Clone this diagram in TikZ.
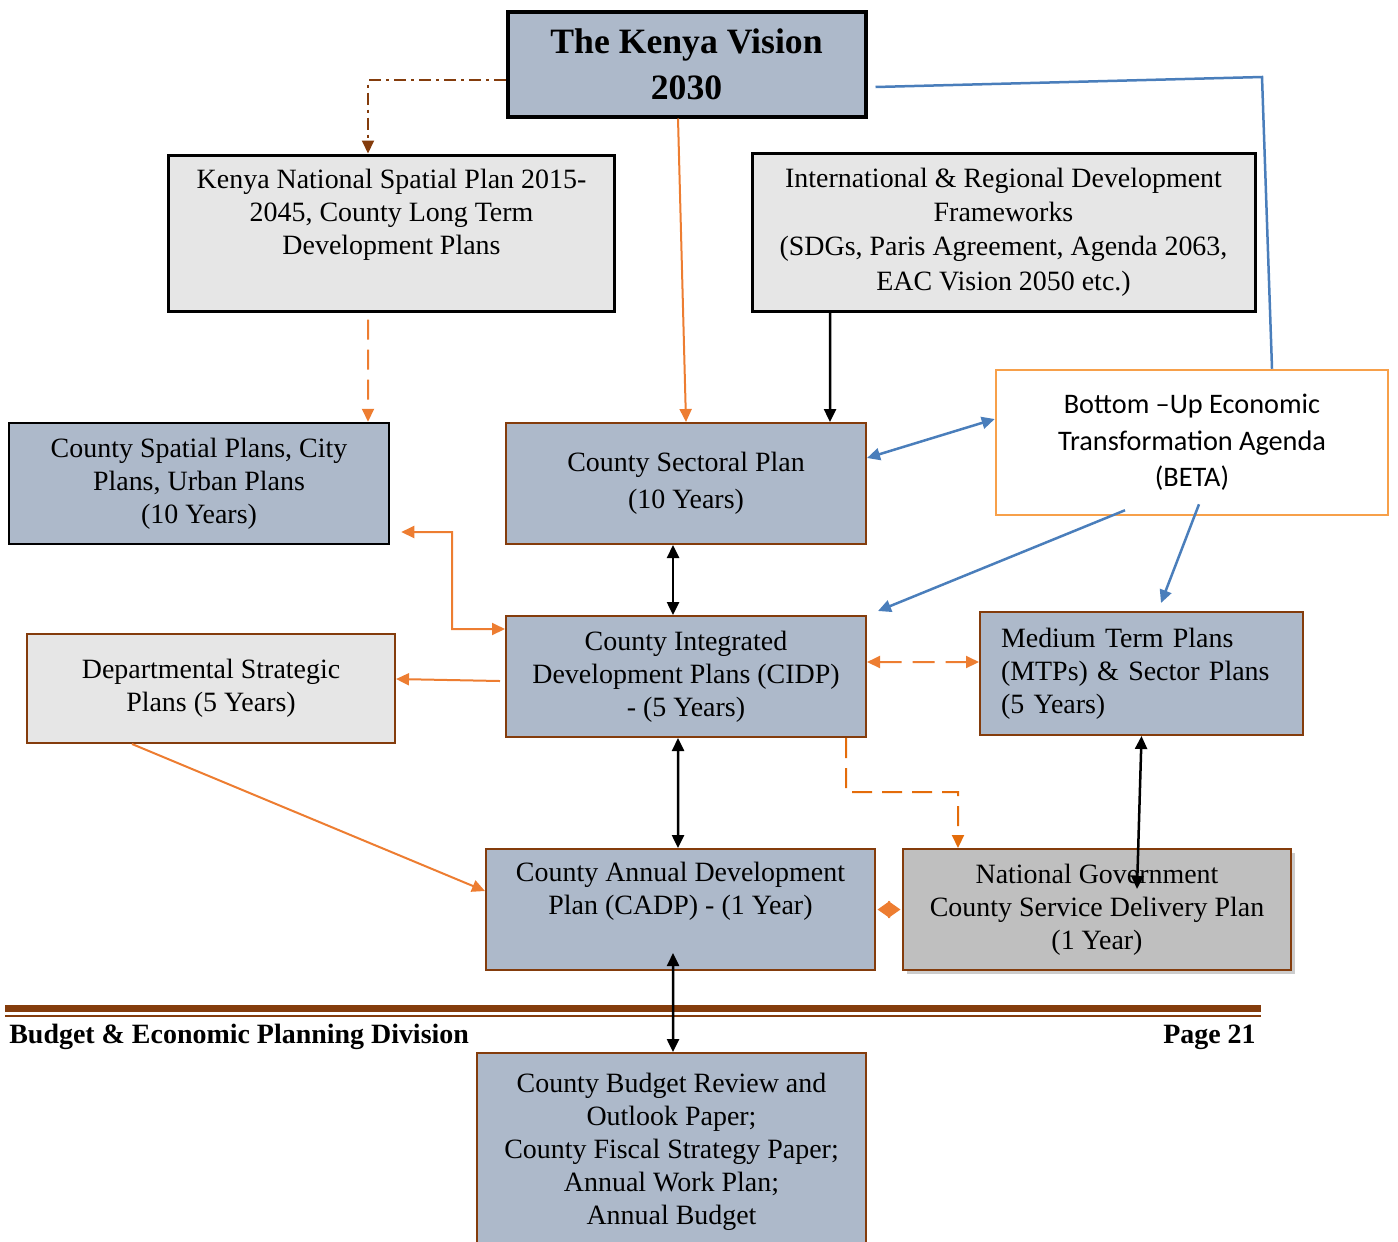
\documentclass[tikz,border=0pt]{standalone}
\usepackage{fontspec}
\setmainfont{Liberation Serif}
\newfontfamily\betafont{Carlito}
\usepackage{tikz}
\usetikzlibrary{arrows.meta,shadows}
\definecolor{slate}{HTML}{ADB9CA}
\definecolor{paper}{HTML}{E6E6E6}
\definecolor{silver}{HTML}{BFBFBF}
\definecolor{rust}{HTML}{843C0C}
\definecolor{tangerine}{HTML}{ED7D31}
\definecolor{amber}{HTML}{E46C0A}
\definecolor{peach}{HTML}{F7A04A}
\definecolor{steel}{HTML}{4A7EBB}

\begin{document}
\begin{tikzpicture}[x=0.2mm, y=-0.2mm,
        >={Triangle[length=2.6mm,width=2.4mm]},
        txt/.style={font=\fontsize{15.9pt}{18.8pt}\selectfont},
        greybox/.style={txt, draw=black, line width=0.6mm, fill=paper, align=center, inner sep=0pt},
        planbox/.style={txt, draw=rust, line width=0.4mm, fill=slate, align=center, inner sep=0pt},
        orangeline/.style={tangerine, line width=0.4mm},
        blackline/.style={black, line width=0.5mm},
        blueline/.style={steel, line width=0.5mm}]
        \useasboundingbox (0,0) rectangle (1398,1241);
        \draw[rust, line width=1.4mm] (5,1008) -- (1261,1008);
        \draw[rust, line width=0.4mm] (5,1016) -- (1261,1016);
        \node[anchor=west, inner sep=0pt, font=\bfseries\fontsize{15.9pt}{18.8pt}\selectfont] (division) at (9,1037) {Budget \& Economic Planning Division};
        \node[anchor=east, inner sep=0pt, font=\bfseries\fontsize{15.9pt}{18.8pt}\selectfont] (page) at (1256,1037) {Page 21};
        \node[greybox, line width=0.8mm, fill=slate, minimum width=71.6mm, minimum height=21mm, font=\bfseries\fontsize{20.3pt}{26pt}\selectfont] (vision) at (686.5,64) {The Kenya Vision\\2030};
        \node[greybox, minimum width=89mm, minimum height=31.2mm] (knsp) at (391.5,233) {Kenya National Spatial Plan 2015-\\2045, County Long Term\\Development Plans\\\strut};
        \node[greybox, minimum width=100.6mm, minimum height=31.6mm, font=\fontsize{15.9pt}{19.5pt}\selectfont] (intl) at (1003.5,232) {International \& Regional Development\\Frameworks\\(SDGs, Paris Agreement, Agenda 2063,\\EAC Vision 2050 etc.)};
        \node[planbox, draw=black, line width=0.5mm, minimum width=76mm, minimum height=24.2mm] (csp) at (199,483.5) {County Spatial Plans, City\\Plans, Urban Plans\\(10 Years)};
        \node[planbox, minimum width=72mm, minimum height=24.2mm, font=\fontsize{15.9pt}{21pt}\selectfont] (csecp) at (686,483.5) {County Sectoral Plan\\(10 Years)};
        \node[draw=peach, line width=0.5mm, fill=white, align=center, inner sep=0pt, minimum width=78.4mm, minimum height=29mm, font=\betafont\fontsize{16.1pt}{20.8pt}\selectfont] (beta) at (1192,442.5) {Bottom –Up Economic\\Transformation Agenda\\(BETA)};
        \node[greybox, draw=rust, line width=0.4mm, minimum width=73.6mm, minimum height=21.8mm] (dsp) at (211,688.5) {Departmental Strategic\\Plans (5 Years)};
        \node[planbox, minimum width=72mm, minimum height=24.2mm] (cidp) at (686,676.5) {County Integrated\\Development Plans (CIDP)\\- (5 Years)};
        \node[planbox, align=left, text width=56.2mm, inner xsep=4.2mm, minimum width=64.6mm, minimum height=24.6mm] (mtp) at (1141.5,673.5) {Medium Term Plans\\(MTPs) \& Sector Plans\\(5 Years)};
        \node[planbox, minimum width=77.8mm, minimum height=24.2mm] (cadp) at (680.5,909.5) {County Annual Development\\Plan (CADP) - (1 Year)\\\strut};
        \node[planbox, fill=silver, minimum width=77.6mm, minimum height=24.2mm, drop shadow={shadow xshift=0.8mm, shadow yshift=-0.8mm, fill=black!20, opacity=1}] (ngcs) at (1097,909.5) {National Government\\County Service Delivery Plan\\(1 Year)};
        \node[planbox, minimum width=77.8mm, minimum height=39.4mm] (cbrp) at (671.5,1151.5) {County Budget Review and\\Outlook Paper;\\County Fiscal Strategy Paper;\\Annual Work Plan;\\Annual Budget};
        \coordinate (bend) at (1262,77);
        \coordinate (jog) at (452,532);
        \coordinate (kink) at (958,792);
        \draw[rust, line width=0.4mm, dash pattern=on 2.4mm off 1mm on 0.6mm off 1mm, ->] ([yshift=-3.2mm]vision.west) -| ([xshift=-4.7mm]knsp.north);
        \draw[orangeline, ->] ([xshift=-1.7mm]vision.south) -- (csecp.north);
        \draw[blueline] ([xshift=1.6mm,yshift=-4.6mm]vision.east) -- (bend) -- ([xshift=16mm]beta.north);
        \draw[blackline, ->] ([xshift=-34.7mm]intl.south) -- ([xshift=28.8mm]csecp.north);
        \draw[orangeline, dash pattern=on 4mm off 2mm, ->] ([xshift=-4.7mm,yshift=-1.4mm]knsp.south) -- ([xshift=33.8mm]csp.north);
        \draw[blueline, <->] ([yshift=5.1mm]csecp.east) -- ([yshift=4.7mm]beta.west);
        \draw[blueline, ->] ([xshift=-13.4mm,yshift=1.2mm]beta.south) -- ([xshift=2.2mm,yshift=0.8mm]cidp.north east);
        \draw[blueline, ->] ([xshift=1.4mm,yshift=2.4mm]beta.south) -- ([xshift=3.9mm,yshift=1.6mm]mtp.north);
        \draw[blackline, <->] ([xshift=-2.6mm]csecp.south) -- ([xshift=-2.6mm]cidp.north);
        \draw[orangeline, <->] ([yshift=9.5mm]cidp.west) -| (jog) -- ([xshift=2.2mm,yshift=-9.7mm]csp.east);
        \draw[orangeline, ->] ([xshift=-1mm,yshift=-0.9mm]cidp.west) -- ([yshift=1.9mm]dsp.east);
        \draw[orangeline, dash pattern=on 4.4mm off 2.2mm, <->] ([yshift=2.9mm]cidp.east) -- ([yshift=2.3mm]mtp.west);
        \draw[amber, line width=0.4mm, dash pattern=on 4mm off 2mm, ->] ([xshift=32mm]cidp.south) |- (kink) -- ([xshift=-27.8mm]ngcs.north);
        \draw[blackline, <->] ([xshift=-1.6mm]cidp.south) -- ([xshift=-0.5mm]cadp.north);
        \draw[orangeline, ->] ([xshift=-15.8mm]dsp.south) -- ([yshift=3.7mm]cadp.west);
        \draw[blackline, <->] (mtp.south) -- ([xshift=8mm,yshift=-8.2mm]ngcs.north);
        \draw[orangeline, {Triangle[length=2.5mm,width=3.4mm]}-{Triangle[length=2.5mm,width=3.4mm]}] ([xshift=0.3mm]cadp.east) -- ([xshift=-0.3mm]ngcs.west);
        \draw[blackline, <->] ([xshift=-1.5mm,yshift=3.6mm]cadp.south) -- ([xshift=0.3mm]cbrp.north);
      \end{tikzpicture}
\end{document}
